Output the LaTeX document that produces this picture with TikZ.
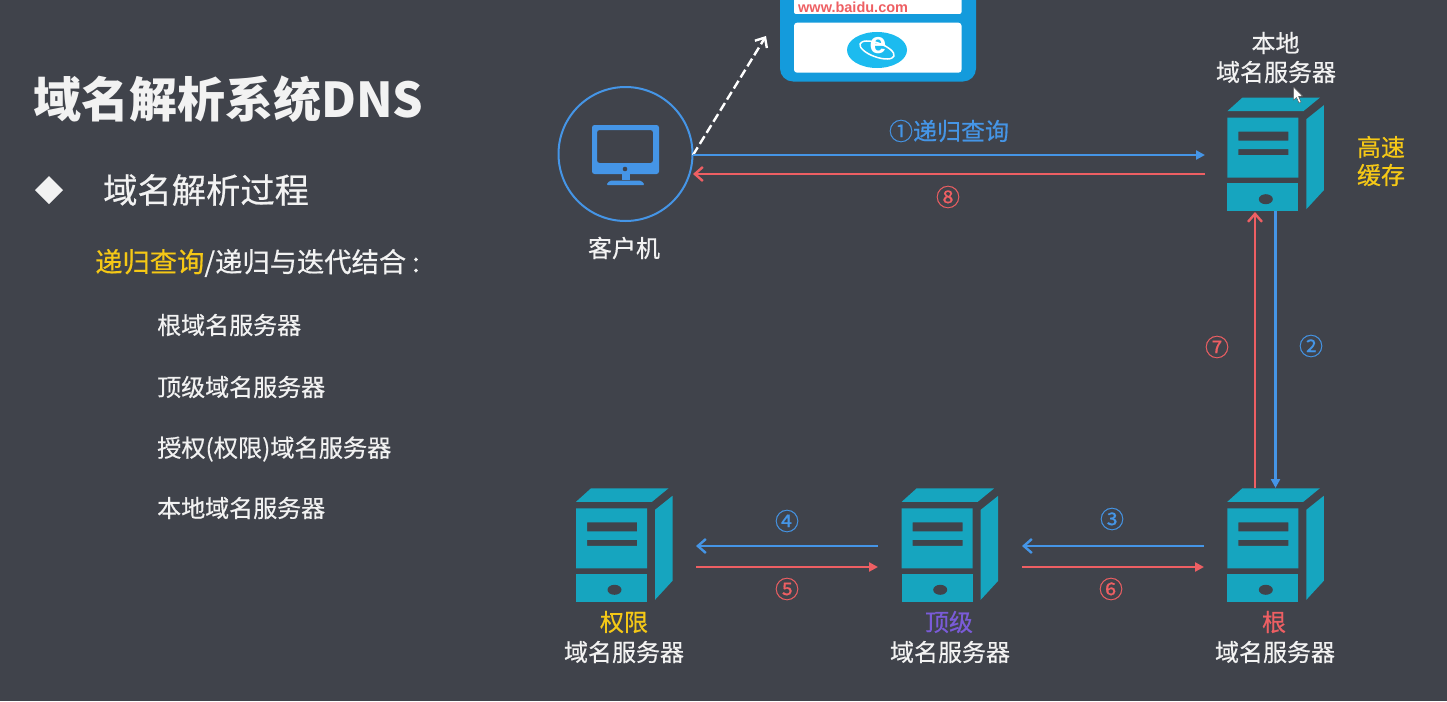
\documentclass[tikz,border=0pt]{standalone}
\usepackage{fontspec}
\usetikzlibrary{arrows.meta}
\newfontfamily\cjk[RawFeature={embolden=0.5}]{Noto Sans CJK SC}
\newfontfamily\cjkheavy{Noto Sans CJK SC}
\newfontfamily\latinsans{Liberation Sans}
\definecolor{slatebg}{HTML}{40434B}
\definecolor{tealbox}{HTML}{16A5BF}
\definecolor{linkblue}{HTML}{4595E6}
\definecolor{returnred}{HTML}{EE5F63}
\definecolor{accentgold}{HTML}{F5C816}
\definecolor{accentviolet}{HTML}{7A5BD8}
\definecolor{browserblue}{HTML}{149BDC}
\definecolor{softwhite}{HTML}{F2F2F2}
\definecolor{ieblue}{HTML}{1CBBEF}
\tikzset{
  x=1pt, y=-1pt,
  txt/.style={font=\cjk\fontsize{#1}{#1}\selectfont, inner sep=0pt, text=softwhite},
  txt/.default=24,
  leftlabel/.style={txt=#1, anchor=west},
  forward/.style={linkblue, line width=2.4pt, -{Triangle[length=9pt,width=9pt]}},
  backward/.style={linkblue, line width=2.4pt, -{Straight Barb[length=8pt,width=14pt]}},
  fwdred/.style={returnred, line width=2.4pt, -{Triangle[length=9pt,width=9pt]}},
  backred/.style={returnred, line width=2.4pt, -{Straight Barb[length=8pt,width=14pt]}},
  pics/serverbox/.style={code={
    \fill[tealbox] (0,-6.5) -- (15,-20) -- (92.5,-20) -- (76,-6.5) -- cycle;
    \fill[tealbox, even odd rule] (0,0) rectangle (71,60)
      (11,14) rectangle (61,23)
      (11,31.5) rectangle (61,37.5);
    \fill[tealbox] (0,65.5) rectangle (71,93.5);
    \fill[slatebg] (38.5,81.5) ellipse [x radius=7, y radius=5];
    \fill[tealbox] (79,1.5) -- (96.5,-12.5) -- (96.5,72.5) -- (79,91.5) -- cycle;
  }}
}
\begin{document}
\begin{tikzpicture}
\useasboundingbox (0,0) rectangle (1447,701);
\fill[slatebg] (0,0) rectangle (1447,701);

% Heading and outline on the left
\node[txt=48, anchor=west, font=\cjkheavy\bfseries\fontsize{48}{48}\selectfont] (title) at (33,99) {域名解析系统DNS};
\fill[softwhite] (49,176) -- (63,190) -- (49,204) -- (35,190) -- cycle;
\node[leftlabel=34.3] (process) at (103,190) {域名解析过程};
\node[leftlabel=27.3] (mode) at (95,263) {\textcolor{accentgold}{递归查询}/递归与迭代结合\hspace{6pt}:};
\node[leftlabel=24] (rootitem) at (157,325) {根域名服务器};
\node[leftlabel=24] (tlditem) at (157,387) {顶级域名服务器};
\node[leftlabel=24.2] (authitem) at (157,449) {授权(权限)域名服务器};
\node[leftlabel=24] (localitem) at (157,508) {本地域名服务器};

% Browser window, cut off by the top edge
\begin{scope}
  \clip (0,0) rectangle (1447,701);
  \fill[browserblue, rounded corners=13pt] (780,-40) rectangle (976,81.5);
  \fill[white, rounded corners=2pt] (794,-5) rectangle (961.5,14);
  \fill[white, rounded corners=3pt] (794,22.7) rectangle (961.5,72.7);
\end{scope}
\node[inner sep=0pt, anchor=west, text=returnred, font=\latinsans\bfseries\fontsize{14.5}{14.5}\selectfont] (url) at (798,7.5) {www.baidu.com};
\fill[ieblue] (877,50) ellipse [x radius=30, y radius=18];
\node[inner sep=0pt, text=white, font=\latinsans\bfseries\fontsize{30}{30}\selectfont] (ielogo) at (878,45.5) {e};
\draw[white, line width=1.5pt, rotate around={-20:(877,50)}] (877,50) ellipse [x radius=18, y radius=7];

% Client computer
\node[circle, draw=linkblue, line width=2pt, minimum size=134pt, inner sep=0pt] (client) at (625.5,154) {};
\fill[linkblue, rounded corners=2.5pt, even odd rule] (592,125) rectangle (659,174)
  (597,130) rectangle (653,163);
\fill[slatebg] (625,169) circle (2.3);
\fill[linkblue] (621.5,174) rectangle (629.5,180);
\fill[linkblue, rounded corners=1.5pt] (606,185) -- (610,180.5) -- (641,180.5) -- (645,185) -- cycle;
\node[txt=24] (clientlabel) at (624,248) {客户机};

% Servers
\pic at (1227.3,117.7) {serverbox};
\pic at (1227.3,508.3) {serverbox};
\pic at (901.7,508.3) {serverbox};
\pic at (576,508.3) {serverbox};

% Server captions
\node[txt=24] (locala) at (1275.5,43) {本地};
\node[txt=24] (localb) at (1276,72) {域名服务器};
\node[txt=24, text=accentgold] (cachea) at (1381,147) {高速};
\node[txt=24, text=accentgold] (cacheb) at (1381,175) {缓存};
\node[txt=24, text=returnred] (roota) at (1274,622) {根};
\node[txt=24] (rootb) at (1275,652) {域名服务器};
\node[txt=24, text=accentviolet] (tlda) at (949,622) {顶级};
\node[txt=24] (tldb) at (950,652) {域名服务器};
\node[txt=24, text=accentgold] (autha) at (624,622) {权限};
\node[txt=24] (authb) at (624,652) {域名服务器};

% Connector end points
\coordinate (cE) at (693,155);
\coordinate (cEr) at (693,174);
\coordinate (lW) at (1205,155);
\coordinate (lWr) at (1205,174);
\coordinate (lSb) at (1275.5,211);
\coordinate (lSr) at (1255,212);
\coordinate (rNb) at (1275.5,488);
\coordinate (rNr) at (1255,488);
\coordinate (rWb) at (1204,546);
\coordinate (rWr) at (1204,567);
\coordinate (tEb) at (1022,546);
\coordinate (tEr) at (1022,567);
\coordinate (tWb) at (878,546);
\coordinate (tWr) at (878,567);
\coordinate (aEb) at (696,546);
\coordinate (aEr) at (696,567);
\coordinate (dashend) at (766,36);

% Query and reply connectors
\draw[white, line width=2.4pt, dash pattern=on 9pt off 4pt, -{Straight Barb[length=8pt,width=14pt]}] (cE) -- (dashend);
\draw[forward] (cE) -- (lW);
\draw[backred] (lWr) -- (cEr);
\draw[forward] (lSb) -- (rNb);
\draw[backred] (rNr) -- (lSr);
\draw[backward] (rWb) -- (tEb);
\draw[fwdred] (tEr) -- (rWr);
\draw[backward] (tWb) -- (aEb);
\draw[fwdred] (aEr) -- (tWr);

% Step labels
\node[txt=24, text=linkblue] (s1) at (949,131) {①递归查询};
\node[txt=24, text=linkblue] (s2) at (1311,346) {②};
\node[txt=24, text=linkblue] (s3) at (1112,519) {③};
\node[txt=24, text=linkblue] (s4) at (787,521) {④};
\node[txt=24, text=returnred] (s5) at (787,589) {⑤};
\node[txt=24, text=returnred] (s6) at (1111,589) {⑥};
\node[txt=24, text=returnred] (s7) at (1217,347) {⑦};
\node[txt=24, text=returnred] (s8) at (948,197) {⑧};

% Mouse pointer
\fill[white, draw=black!70, line width=0.4pt] (1293.5,87) -- (1293.5,100) -- (1296.5,97.5) -- (1299,103) -- (1301,102) -- (1298.5,96.5) -- (1302.5,96) -- cycle;
\end{tikzpicture}
\end{document}
